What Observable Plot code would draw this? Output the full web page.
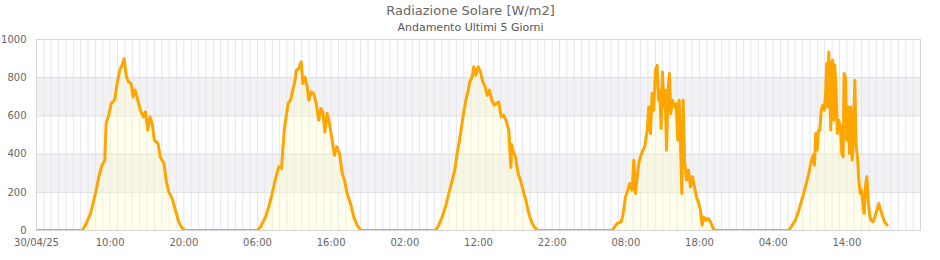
<!DOCTYPE html>
<html>
<head>
<meta charset="utf-8">
<script src="https://cdn.jsdelivr.net/npm/d3@7"></script>
<script src="https://cdn.jsdelivr.net/npm/@observablehq/plot@0.6"></script>
<style>
  html, body { margin: 0; padding: 0; background: #fff; }
  #chart svg { display: block; }
</style>
</head>
<body>
<div id="chart"></div>
<script>
const title = "Radiazione Solare [W/m2]";
const subtitle = "Andamento Ultimi 5 Giorni";
const dayDates = ["2025-04-30", "2025-05-01", "2025-05-02", "2025-05-03", "2025-05-04"];
const yTicks = [0, 200, 400, 600, 800, 1000];
const bands = [[200, 400], [600, 800]];
const tickHours = [0, 10, 20, 30, 40, 50, 60, 70, 80, 90, 100, 110];

// [hour of day, W/m2]
const day1 = [[0,0],[6.2,0],[6.65,28],[7.33,89],[8.0,194],[8.46,281],[8.9,342],[9.27,368],[9.45,560],[9.8,604],[10.14,665],[10.6,682],[10.95,770],[11.3,839],[11.6,865],[11.9,900],[12.2,804],[12.5,778],[12.85,770],[13.1,700],[13.4,735],[13.75,682],[14.1,630],[14.5,595],[14.8,621],[15.1,525],[15.4,595],[15.7,560],[16.0,473],[16.5,455],[16.8,385],[17.3,351],[17.6,263],[17.95,202],[18.4,168],[18.87,106],[19.3,45],[19.8,10],[20.2,0]];
const day2 = [[5.96,0],[6.41,19],[7.09,71],[7.53,124],[8.0,194],[8.44,272],[8.89,333],[9.26,325],[9.43,420],[9.66,534],[9.89,595],[10.16,665],[10.48,682],[10.79,735],[11.06,778],[11.29,839],[11.6,848],[11.93,883],[12.15,770],[12.42,804],[12.75,752],[12.96,682],[13.29,726],[13.64,717],[13.97,665],[14.32,577],[14.6,639],[14.86,621],[15.14,516],[15.46,612],[15.77,560],[16.14,473],[16.45,394],[16.76,438],[17.13,403],[17.5,298],[17.81,263],[18.17,194],[18.62,141],[19.07,71],[19.53,28],[19.98,5],[20.3,0]];
const day3 = [[6.16,0],[6.61,28],[7.07,71],[7.52,124],[7.97,194],[8.43,263],[8.78,316],[9.1,403],[9.42,473],[9.69,542],[10.0,621],[10.28,682],[10.55,726],[10.82,778],[11.14,804],[11.36,857],[11.63,813],[11.96,857],[12.27,830],[12.58,778],[12.91,752],[13.18,708],[13.49,735],[13.81,682],[14.13,656],[14.44,665],[14.75,673],[15.07,595],[15.43,604],[15.8,569],[16.11,525],[16.4,330],[16.5,450],[16.65,420],[17.02,385],[17.38,298],[17.7,263],[18.06,211],[18.42,159],[18.83,89],[19.29,37],[19.74,10],[20.18,0]];
const day4 = [[6.14,0],[6.82,37],[7.37,45],[7.64,89],[7.95,176],[8.27,211],[8.53,246],[8.86,211],[9.08,368],[9.31,194],[9.54,281],[9.76,351],[9.99,385],[10.3,420],[10.57,438],[10.9,525],[11.11,647],[11.34,508],[11.57,717],[11.79,630],[12.02,839],[12.25,865],[12.43,682],[12.6,735],[12.79,534],[12.97,830],[13.15,647],[13.34,735],[13.52,420],[13.74,735],[13.92,822],[14.1,612],[14.33,682],[14.6,647],[14.83,665],[15.05,473],[15.24,682],[15.42,455],[15.6,194],[15.78,682],[15.96,368],[16.23,263],[16.5,316],[16.78,228],[17.05,281],[17.32,228],[17.59,176],[17.9,141],[18.13,106],[18.36,28],[18.58,71],[18.85,54],[19.18,63],[19.49,45],[19.86,10],[20.17,0]];
const day5 = [[6.12,0],[6.58,28],[7.03,54],[7.48,106],[7.94,168],[8.38,228],[8.83,298],[9.2,368],[9.43,394],[9.61,342],[9.78,508],[9.97,420],[10.15,525],[10.33,525],[10.52,630],[10.73,656],[10.96,630],[11.14,735],[11.27,874],[11.41,647],[11.55,935],[11.68,770],[11.82,525],[11.95,874],[12.09,892],[12.22,577],[12.36,865],[12.54,735],[12.72,508],[12.9,577],[13.13,542],[13.31,403],[13.5,385],[13.63,822],[13.81,804],[13.99,473],[14.18,647],[14.36,403],[14.54,647],[14.72,368],[14.9,473],[15.08,787],[15.27,438],[15.45,385],[15.62,263],[15.81,194],[15.99,211],[16.17,141],[16.35,89],[16.53,228],[16.71,281],[16.9,159],[17.07,89],[17.25,54],[17.53,45],[17.8,71],[18.07,106],[18.34,141],[18.6,106],[18.88,71],[19.15,45],[19.47,28]];

const days = [day1, day2, day3, day4, day5];
const HOUR = 3600e3;
const start = new Date(dayDates[0] + "T00:00Z");
const end = new Date("2025-05-05T00:00Z");

const data = [];
days.forEach((d, i) => {
  const base = new Date(dayDates[i] + "T00:00Z").getTime();
  d.forEach(([h, v]) => data.push({date: new Date(base + h * HOUR), value: v}));
});

const hourlyGrid = d3.utcHour.range(start, new Date(end.getTime() + 1));
const xTicks = tickHours.map(h => new Date(start.getTime() + h * HOUR));
const fmtFirst = d3.utcFormat("%d/%m/%y");
const fmtHour = d3.utcFormat("%H:%M");

const chart = Plot.plot({
  width: 940,
  height: 260,
  marginLeft: 36,
  marginRight: 20,
  marginTop: 39,
  marginBottom: 30,
  style: {fontFamily: "DejaVu Sans, sans-serif", fontSize: "10px", color: "#666", background: "#fff"},
  x: {type: "utc", domain: [start, end], ticks: xTicks, tickFormat: (d, i) => i === 0 ? fmtFirst(d) : fmtHour(d), tickSize: 0, tickPadding: 8, label: null},
  y: {domain: [0, 1000], ticks: yTicks, tickFormat: d => String(d), tickSize: 0, tickPadding: 10, label: null},
  marks: [
    Plot.rect(bands, {y1: d => d[0], y2: d => d[1], fill: "#f2f2f2"}),
    Plot.ruleX(hourlyGrid, {stroke: "#e6e4f8", strokeWidth: 1}),
    Plot.ruleY(yTicks, {stroke: "#dcdcdc", strokeWidth: 1}),
    Plot.areaY(data, {x: "date", y: "value", fill: "#ffffc0", fillOpacity: 0.3}),
    Plot.lineY(data, {x: "date", y: "value", stroke: "#ffa500", strokeWidth: 3, strokeLinejoin: "round", clip: true}),
    Plot.frame({stroke: "#d6d6d6"}),
    Plot.text([title], {frameAnchor: "top", lineAnchor: "middle", dx: -8, dy: -28.5, text: d => d, fontSize: 13, fill: "#666"}),
    Plot.text([subtitle], {frameAnchor: "top", lineAnchor: "middle", dx: -8, dy: -12.5, text: d => d, fontSize: 11, fill: "#555"})
  ]
});
document.getElementById("chart").appendChild(chart);
</script>
</body>
</html>
